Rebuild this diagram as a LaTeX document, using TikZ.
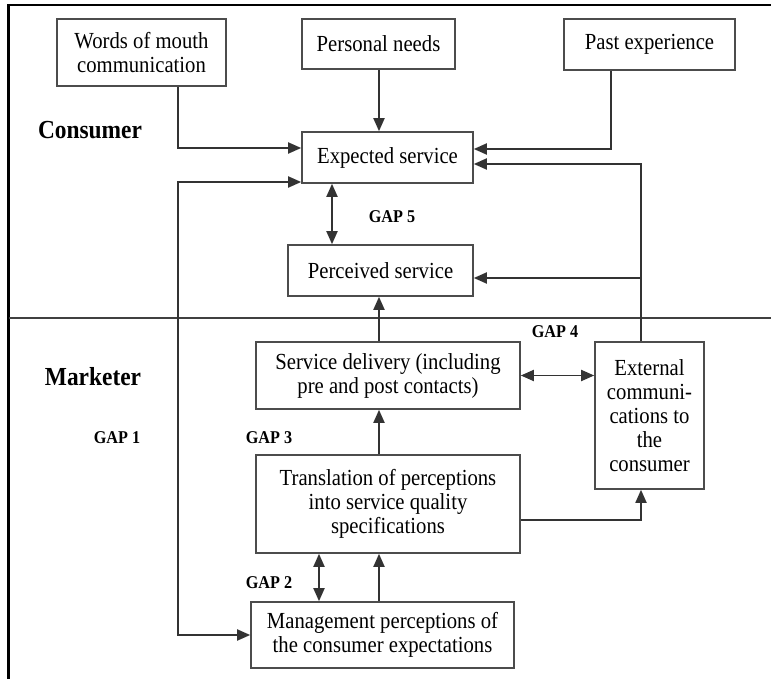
\documentclass[tikz,border=0pt]{standalone}
\usepackage{fontspec}
\setmainfont{Liberation Serif}[FakeStretch=0.9]
\usetikzlibrary{arrows.meta}

\begin{document}
\begin{tikzpicture}[x=0.5pt,y=-0.5pt,
    box/.style={draw=black!70,line width=0.8pt,align=center,inner sep=0pt,
        font=\fontsize{11.5}{12}\selectfont},
    arr/.style={draw=black!80,line width=0.9pt,-{Triangle[length=6.5pt,width=5.5pt]}},
    arrs/.style={arr,{Triangle[length=6.5pt,width=5.5pt]}-{Triangle[length=6.5pt,width=5.5pt]}},
    gap/.style={font=\bfseries\fontsize{9}{10}\selectfont},
    side/.style={font=\bfseries\fontsize{13}{15}\selectfont}]
        \useasboundingbox (0,0) rectangle (771,679);
        \draw[line width=1.5pt] (8.5,679) -- (8.5,4.5);
        \draw[line width=1pt] (8,5.5) -- (771,5.5);
        \draw[black!75,line width=1pt] (9,318) -- (771,318);
        %
        \node[box,minimum width=84.5pt,minimum height=33.5pt] (words) at (141.5,52.5) {Words of mouth\\communication};
        \node[box,minimum width=76.5pt,minimum height=25pt] (personal) at (378.5,44) {Personal needs};
        \node[box,minimum width=85.5pt,minimum height=25.5pt] (past) at (649.5,44.5) {Past experience};
        \node[box,minimum width=85.5pt,minimum height=25.5pt] (expected) at (387.5,157.5) {Expected service};
        \node[box,minimum width=92.5pt,minimum height=25.5pt] (perceived) at (380.5,270.5) {Perceived service};
        \node[box,minimum width=132pt,minimum height=33.5pt] (delivery) at (388,375.5) {Service delivery (including\\pre and post contacts)};
        \node[box,minimum width=54.5pt,minimum height=73.5pt] (external) at (649.5,415.5) {External\\communi-\\cations to\\the\\consumer};
        \node[box,minimum width=132pt,minimum height=49pt] (translation) at (388,504) {Translation of perceptions\\into service quality\\specifications};
        \node[box,minimum width=131.5pt,minimum height=33pt] (management) at (382.5,635) {Management perceptions of\\the consumer expectations};
        %
        \node[side] (consumer) at (90,130) {Consumer};
        \node[side] (marketer) at (93,377) {Marketer};
        \node[gap] (gap1) at (117,438) {GAP 1};
        \node[gap] (gap2) at (269,583) {GAP 2};
        \node[gap] (gap3) at (269,438) {GAP 3};
        \node[gap] (gap4) at (555,332) {GAP 4};
        \node[gap] (gap5) at (392,217) {GAP 5};
        %
        \coordinate (gapone) at (178,635);
        \coordinate (gaptwo) at (319,0);
        \coordinate (gapfive) at (332,0);
        \coordinate (midline) at (379,0);
        \coordinate (pastline) at (611,0);
        \coordinate (extline) at (641,0);
        %
        \draw[arr] (words.south -| gapone) |- ([yshift=4.75pt]expected.west);
        \draw[arr] (personal.south -| midline) -- (expected.north -| midline);
        \draw[arr] (past.south -| pastline) |- ([yshift=4.25pt]expected.east);
        \draw[arr] (external.north -| extline) |- ([yshift=-3.25pt]expected.east);
        \draw[arr] ([yshift=-3.75pt]perceived.east -| extline) -- ([yshift=-3.75pt]perceived.east);
        \draw[arrs] (expected.south -| gapfive) -- (perceived.north -| gapfive);
        \draw[arr] (delivery.north -| midline) -- (perceived.south -| midline);
        \draw[arrs] (delivery.east) -- (delivery.east -| external.west);
        \draw[arr] (translation.north -| midline) -- (delivery.south -| midline);
        \draw[arr] ([yshift=-8pt]translation.east) -| (external.south -| extline);
        \draw[arr] (management.north -| midline) -- (translation.south -| midline);
        \draw[arrs] (management.north -| gaptwo) -- (translation.south -| gaptwo);
        \draw[arrs] ([yshift=-12.25pt]expected.west) -| (gapone) -- (management.west);
\end{tikzpicture}
\end{document}
